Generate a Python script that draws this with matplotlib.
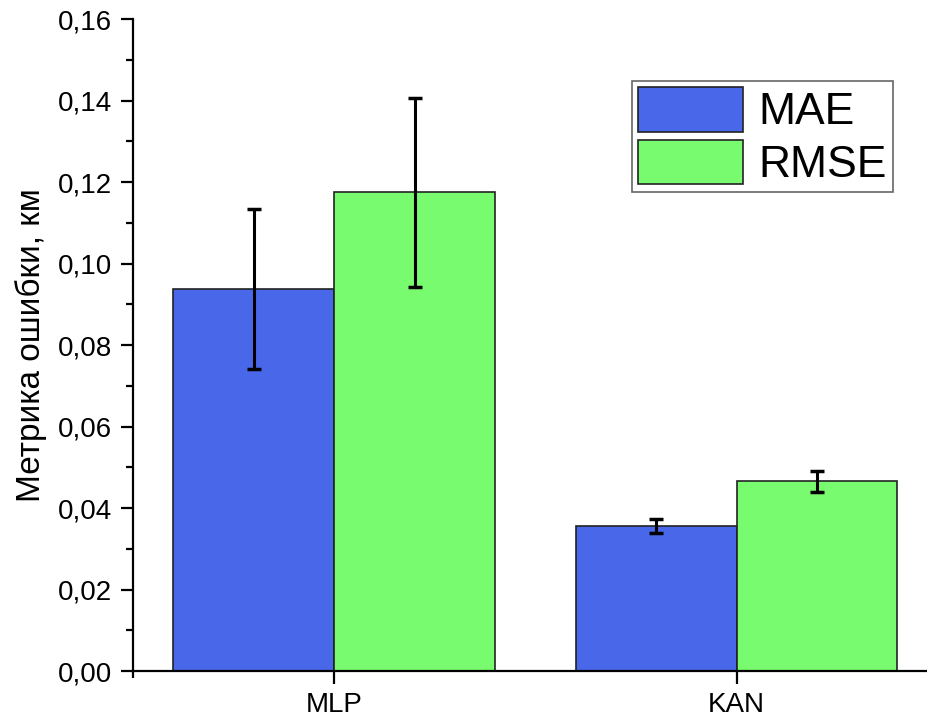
import matplotlib.pyplot as plt
from matplotlib.ticker import FuncFormatter, MultipleLocator, FixedLocator
import numpy as np

plt.rcParams['font.family'] = ['Liberation Sans', 'DejaVu Sans']

categories = ['MLP', 'KAN']
mae = [0.0938, 0.0356]
mae_err = [0.0196, 0.0017]
rmse = [0.1175, 0.0466]
rmse_err = [0.0232, 0.0026]

fig = plt.figure(figsize=(9.27, 7.21), dpi=100)
# axes run past the right edge, like the original export
ax = fig.add_axes([0.1435, 0.0693, 0.868, 0.9043])

x = np.arange(len(categories))
w = 0.4
err_kw = dict(ecolor='black', elinewidth=2.2, capsize=5, capthick=2.5)
ax.bar(x - w / 2, mae, w, yerr=mae_err, color='#4868e9', edgecolor='#222222',
       linewidth=1.2, label='MAE', error_kw=err_kw)
ax.bar(x + w / 2, rmse, w, yerr=rmse_err, color='#79fb6f', edgecolor='#222222',
       linewidth=1.2, label='RMSE', error_kw=err_kw)

ax.set_xlim(-0.5, 1.5)
ax.set_ylim(0, 0.16)
ax.set_xticks(x)
ax.set_xticklabels(categories)
ax.xaxis.set_minor_locator(FixedLocator([-0.5, 1.5]))
ax.yaxis.set_major_locator(MultipleLocator(0.02))
ax.yaxis.set_minor_locator(MultipleLocator(0.01))
ax.yaxis.set_major_formatter(FuncFormatter(lambda v, p: f"{v:.2f}".replace('.', ',')))

for s in ['top', 'right']:
    ax.spines[s].set_visible(False)
for s in ['left', 'bottom']:
    ax.spines[s].set_linewidth(1.6)

ax.tick_params(which='major', length=9, width=1.6, labelsize=20, pad=6)
ax.tick_params(which='minor', length=5, width=1.6)
ax.set_ylabel('Метрика ошибки, км', fontsize=24, labelpad=8)

leg = ax.legend(loc='upper right', bbox_to_anchor=(0.944, 0.905), fontsize=32,
                fancybox=False, edgecolor='#666666', framealpha=1,
                handlelength=2.36, handleheight=1.16, labelspacing=0.14,
                borderpad=0.14, handletextpad=0.34, borderaxespad=0)
leg.get_frame().set_linewidth(1.2)

plt.savefig('out.png', dpi=100)
